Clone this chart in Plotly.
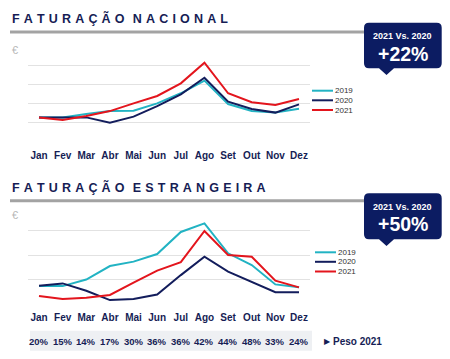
import plotly.graph_objects as go

W, H = 450, 359

months = ["Jan", "Fev", "Mar", "Abr", "Mai", "Jun", "Jul", "Ago", "Set", "Out", "Nov", "Dez"]
series_names = ["2019", "2020", "2021"]

nac_2019 = [1.27, 1.27, 1.45, 1.60, 1.62, 2.00, 2.53, 3.19, 1.97, 1.60, 1.52, 1.72]
nac_2020 = [1.27, 1.27, 1.27, 0.99, 1.31, 1.86, 2.47, 3.34, 2.09, 1.71, 1.52, 1.95]
nac_2021 = [1.27, 1.13, 1.34, 1.60, 2.00, 2.39, 3.05, 4.13, 2.53, 2.06, 1.92, 2.23]

est_2019 = [0.73, 0.73, 1.00, 1.55, 1.73, 2.04, 2.94, 3.29, 2.07, 1.59, 0.80, 0.68]
est_2020 = [0.75, 0.84, 0.54, 0.16, 0.20, 0.39, 1.18, 1.93, 1.32, 0.91, 0.48, 0.48]
est_2021 = [0.33, 0.20, 0.26, 0.37, 0.87, 1.36, 1.71, 2.98, 2.00, 1.93, 0.95, 0.68]

peso_2021 = ["20%", "15%", "14%", "17%", "30%", "36%", "36%", "42%", "44%", "48%", "33%", "24%"]

titles = ["FATURAÇÃO NACIONAL", "FATURAÇÃO ESTRANGEIRA"]
callout_label = "2021 Vs. 2020"
callout_values = ["+22%", "+50%"]
peso_label = "Peso 2021"

COLORS = ["#22b3c3", "#131d5c", "#e3151d"]
NAVY = "#161d55"
BOX = "#0c1c62"
FONT = "Liberation Sans, Arial, sans-serif"
NARROW = "Liberation Sans Narrow, Arial Narrow, Liberation Sans, sans-serif"


def px(x):
    return x / W


def py(y):
    return 1 - y / H


def spaced(t):
    words = t.split(" ")
    return "\u2004\u2004".join("\u2004".join(list(w)) for w in words)


fig = go.Figure()
for name, vals, col in zip(series_names, [nac_2019, nac_2020, nac_2021], COLORS):
    fig.add_trace(go.Scatter(x=months, y=vals, mode="lines", name=name,
                             line=dict(color=col, width=2), xaxis="x", yaxis="y",
                             showlegend=False, hoverinfo="skip"))
for name, vals, col in zip(series_names, [est_2019, est_2020, est_2021], COLORS):
    fig.add_trace(go.Scatter(x=months, y=vals, mode="lines", name=name,
                             line=dict(color=col, width=2), xaxis="x2", yaxis="y2",
                             showlegend=False, hoverinfo="skip"))

xl, xr = 27.5, 310
jan_x, dez_x = 39, 299
step = (dez_x - jan_x) / 11
xrange = [-(jan_x - xl) / step, 11 + (xr - dez_x) / step]

xaxis_common = dict(type="category", range=xrange, showgrid=False, zeroline=False,
                    showline=False, ticks="", fixedrange=True,
                    tickfont=dict(family=FONT, size=10, color=NAVY, weight="bold"),
                    ticklabelstandoff=6)
yaxis_common = dict(showgrid=True, gridcolor="#e2e2e2", gridwidth=1, zeroline=False,
                    showline=False, showticklabels=False, ticks="", dtick=1, fixedrange=True)

shapes = []
annotations = []

layout = dict(
    width=W, height=H, margin=dict(l=0, r=0, t=0, b=0),
    paper_bgcolor="white", plot_bgcolor="white",
    xaxis=dict(domain=[px(xl), px(xr)], anchor="y", **xaxis_common),
    yaxis=dict(domain=[py(141.7), py(46)], range=[0, 5], anchor="x", **yaxis_common),
    xaxis2=dict(domain=[px(xl), px(xr)], anchor="y2", **xaxis_common),
    yaxis2=dict(domain=[py(304), py(206)], range=[0, 4], anchor="x2", **yaxis_common),
)

panels = [
    dict(title_y=18, rule_y=32, euro_y=50, box_top=22.7, box_bot=68.3, tip=75,
         leg_x=312, leg_y=[90.7, 100.3, 110]),
    dict(title_y=187.5, rule_y=200.7, euro_y=215, box_top=193.3, box_bot=239.3, tip=246,
         leg_x=315, leg_y=[252.3, 261.8, 271.5]),
]

for i, p in enumerate(panels):
    annotations.append(dict(xref="paper", yref="paper", x=px(10), y=py(p["title_y"]),
                            xanchor="left", yanchor="middle", showarrow=False,
                            text=spaced(titles[i]),
                            font=dict(family=FONT, size=12.5, color=NAVY, weight="bold")))
    shapes.append(dict(type="line", xref="paper", yref="paper", x0=px(10), x1=px(366),
                       y0=py(p["rule_y"]), y1=py(p["rule_y"]),
                       line=dict(color="#a3a3a3", width=3)))
    annotations.append(dict(xref="paper", yref="paper", x=px(15), y=py(p["euro_y"]),
                            xanchor="center", yanchor="middle", showarrow=False, text="€",
                            font=dict(family=FONT, size=11, color="#b8b8b8")))
    x0, x1 = 364, 441.7
    t, b = p["box_top"], p["box_bot"]
    r = 5
    bx0, bx1, tipx = 379, 394, 386.5
    pts = (f"M{px(x0 + r)},{py(t)} L{px(x1 - r)},{py(t)} Q{px(x1)},{py(t)} {px(x1)},{py(t + r)} "
           f"L{px(x1)},{py(b - r)} Q{px(x1)},{py(b)} {px(x1 - r)},{py(b)} "
           f"L{px(bx1)},{py(b)} L{px(tipx)},{py(p['tip'])} L{px(bx0)},{py(b)} "
           f"L{px(x0 + r)},{py(b)} Q{px(x0)},{py(b)} {px(x0)},{py(b - r)} "
           f"L{px(x0)},{py(t + r)} Q{px(x0)},{py(t)} {px(x0 + r)},{py(t)} Z")
    shapes.append(dict(type="path", xref="paper", yref="paper", path=pts,
                       fillcolor=BOX, line=dict(width=0)))
    cx = (x0 + x1) / 2
    annotations.append(dict(xref="paper", yref="paper", x=px(cx), y=py(t + 13.5),
                            xanchor="center", yanchor="middle", showarrow=False,
                            text=callout_label,
                            font=dict(family=FONT, size=9, color="white", weight="bold")))
    annotations.append(dict(xref="paper", yref="paper", x=px(cx), y=py(t + 31),
                            xanchor="center", yanchor="middle", showarrow=False,
                            text=callout_values[i],
                            font=dict(family=FONT, size=19.5, color="white", weight="bold")))
    for name, col, ly in zip(series_names, COLORS, p["leg_y"]):
        shapes.append(dict(type="line", xref="paper", yref="paper",
                           x0=px(p["leg_x"]), x1=px(p["leg_x"] + 21), y0=py(ly), y1=py(ly),
                           line=dict(color=col, width=2)))
        annotations.append(dict(xref="paper", yref="paper", x=px(p["leg_x"] + 21), y=py(ly),
                                xanchor="left", yanchor="middle", showarrow=False, text=name,
                                font=dict(family=FONT, size=8, color="#333333")))

shapes.append(dict(type="rect", xref="paper", yref="paper", x0=px(30), x1=px(312),
                   y0=py(350.7), y1=py(330.7), fillcolor="#eef0f3", line=dict(width=0),
                   layer="below"))
for m, pv in zip(months, peso_2021):
    annotations.append(dict(xref="x2", yref="paper", x=m, y=py(341.5),
                            xanchor="center", yanchor="middle", showarrow=False, text=pv,
                            font=dict(family=NARROW, size=9.5, color=NAVY, weight="bold")))
annotations.append(dict(xref="paper", yref="paper", x=px(321.5), y=py(341.3),
                        xanchor="left", yanchor="middle", showarrow=False, text="▶",
                        font=dict(family="DejaVu Sans", size=8, color=NAVY)))
annotations.append(dict(xref="paper", yref="paper", x=px(331), y=py(341.5),
                        xanchor="left", yanchor="middle", showarrow=False, text=peso_label,
                        font=dict(family=FONT, size=10, color=NAVY, weight="bold")))

layout["shapes"] = shapes
layout["annotations"] = annotations
fig.update_layout(**layout)
fig.write_html("out.html", config={"displayModeBar": False},
               post_script="document.body.style.margin='0';document.body.style.overflow='hidden';")
